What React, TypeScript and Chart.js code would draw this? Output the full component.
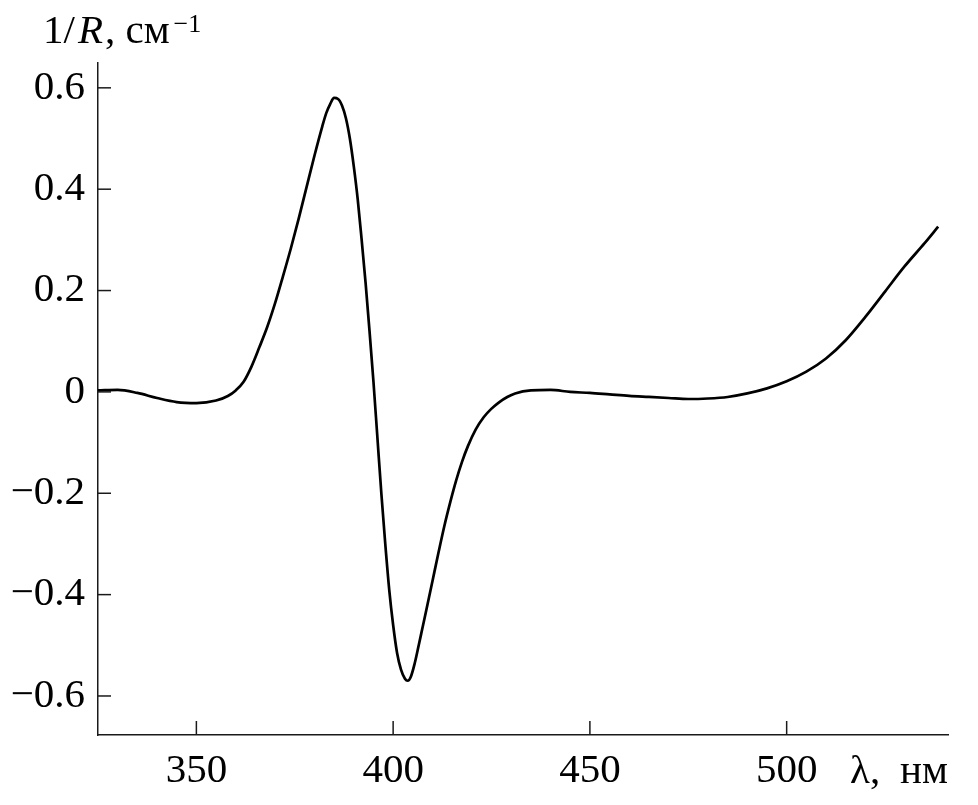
import React, { useEffect, useRef } from "react";
import { Chart, registerables } from "chart.js";

Chart.register(...registerables);

// Wavelength, nm
const wavelengths = [
  325, 330, 335, 340, 345, 350, 355, 358, 360, 362, 364, 366, 368, 370, 372, 374, 376, 378,
  380, 382, 383, 384, 385, 386, 387, 388, 389, 390, 391, 392, 393, 394, 395, 396, 397, 398,
  399, 400, 401, 402, 403, 403.7, 404.5, 405.5, 406.5, 407.5, 408.5, 410, 411.5, 413, 414.5,
  416, 417.5, 419, 421, 423, 425, 427, 429, 431, 435, 440, 445, 450, 455, 460, 465, 470,
  475, 480, 485, 490, 495, 500, 505, 510, 515, 520, 525, 530, 535, 538.5,
];
// 1/R, cm^-1
const values = [
  0.003, 0.004, -0.002, -0.012, -0.02, -0.022, -0.017, -0.008, 0.003, 0.02, 0.05, 0.088, 0.128, 0.175, 0.228, 0.283, 0.342, 0.404,
  0.466, 0.524, 0.55, 0.568, 0.58, 0.578, 0.565, 0.54, 0.5, 0.445, 0.38, 0.3, 0.215, 0.12, 0.02, -0.09, -0.2, -0.3,
  -0.39, -0.46, -0.515, -0.548, -0.566, -0.57, -0.562, -0.535, -0.5, -0.464, -0.428, -0.373, -0.318, -0.265, -0.218,
  -0.175, -0.138, -0.107, -0.074, -0.05, -0.033, -0.02, -0.01, -0.003, 0.003, 0.004, 0.0, -0.002, -0.005, -0.008, -0.01, -0.012,
  -0.014, -0.013, -0.01, -0.003, 0.007, 0.021, 0.04, 0.066, 0.102, 0.148, 0.198, 0.248, 0.293, 0.326,
];

const xTicks = [350, 400, 450, 500];
const yTicks = [-0.6, -0.4, -0.2, 0, 0.2, 0.4, 0.6];
const xMin = 325;
const xMax = 541;
const yMin = -0.677;
const yMax = 0.649;

const yTitleParts = ["1/", "R", ", см"];
const yTitleSup = "\u22121";
const xTitleParts = ["λ,", "нм"];

const SERIF = '"Liberation Serif", "DejaVu Serif", serif';
const FS = 41;

const fmt = (v: number) => {
  const r = Math.round(v * 10) / 10;
  if (r === 0) return "0";
  const s = Math.abs(r).toFixed(1);
  return r < 0 ? "\u2212" + s : s;
};

const decor = {
  id: "decor",
  afterDraw(chart: any) {
    const { ctx, chartArea, scales } = chart;
    ctx.save();
    ctx.strokeStyle = "#1a1a1a";
    ctx.lineWidth = 1.5;
    for (const v of yTicks) {
      const y = scales.y.getPixelForValue(v);
      ctx.beginPath();
      ctx.moveTo(chartArea.left, y);
      ctx.lineTo(chartArea.left + 13, y);
      ctx.stroke();
    }
    for (const v of xTicks) {
      const x = scales.x.getPixelForValue(v);
      ctx.beginPath();
      ctx.moveTo(x, chartArea.bottom);
      ctx.lineTo(x, chartArea.bottom - 14);
      ctx.stroke();
    }
    // y title
    ctx.fillStyle = "#000";
    ctx.textBaseline = "alphabetic";
    ctx.textAlign = "left";
    let x = 43;
    const base = 43;
    ctx.font = `${FS}px ${SERIF}`;
    ctx.fillText(yTitleParts[0], x, base);
    x += ctx.measureText(yTitleParts[0]).width + 3;
    ctx.font = `italic ${FS}px ${SERIF}`;
    ctx.fillText(yTitleParts[1], x, base);
    x += ctx.measureText(yTitleParts[1]).width + 2;
    ctx.font = `${FS}px ${SERIF}`;
    ctx.fillText(yTitleParts[2], x, base);
    x += ctx.measureText(yTitleParts[2]).width + 4;
    ctx.font = `26px ${SERIF}`;
    ctx.fillText(yTitleSup, x, 32);
    // x title
    ctx.font = `${FS}px ${SERIF}`;
    ctx.textAlign = "left";
    ctx.fillText(xTitleParts[0], 850, 783);
    ctx.textAlign = "right";
    ctx.fillText(xTitleParts[1], 948, 783);
    ctx.restore();
  },
};

export default function App() {
  const ref = useRef<HTMLCanvasElement | null>(null);
  useEffect(() => {
    if (!ref.current) return;
    const chart = new Chart(ref.current, {
      type: "line",
      data: {
        datasets: [
          {
            data: wavelengths.map((w, i) => ({ x: w, y: values[i] })),
            borderColor: "#000",
            borderWidth: 2.7,
            pointRadius: 0,
            fill: false,
            cubicInterpolationMode: "monotone",
          },
        ],
      },
      options: {
        responsive: false,
        animation: false,
        devicePixelRatio: 1,
        layout: { padding: { left: 0, right: 30, top: 63, bottom: 0 } },
        plugins: { legend: { display: false }, tooltip: { enabled: false } },
        scales: {
          x: {
            type: "linear",
            min: xMin,
            max: xMax,
            afterBuildTicks: (s: any) => {
              s.ticks = xTicks.map((v) => ({ value: v }));
            },
            afterFit: (s: any) => {
              s.height = 70;
            },
            grid: { display: false, drawTicks: false },
            border: { display: true, color: "#1a1a1a", width: 1.5 },
            ticks: {
              color: "#000",
              font: { family: SERIF, size: FS },
              padding: 12,
              maxRotation: 0,
              autoSkip: false,
            },
          },
          y: {
            type: "linear",
            min: yMin,
            max: yMax,
            afterBuildTicks: (s: any) => {
              s.ticks = yTicks.map((v) => ({ value: v }));
            },
            afterFit: (s: any) => {
              s.width = 98;
            },
            grid: { display: false, drawTicks: false },
            border: { display: true, color: "#1a1a1a", width: 1.5 },
            ticks: {
              color: "#000",
              font: { family: SERIF, size: FS },
              padding: 13,
              autoSkip: false,
              callback: (v: any) => fmt(Number(v)),
            },
          },
        },
      },
      plugins: [decor],
    } as any);
    return () => chart.destroy();
  }, []);
  return (
    <div style={{ position: "absolute", left: 0, top: 0, width: 978, height: 805, background: "#fff" }}>
      <canvas ref={ref} width={978} height={805} style={{ display: "block" }} />
    </div>
  );
}
